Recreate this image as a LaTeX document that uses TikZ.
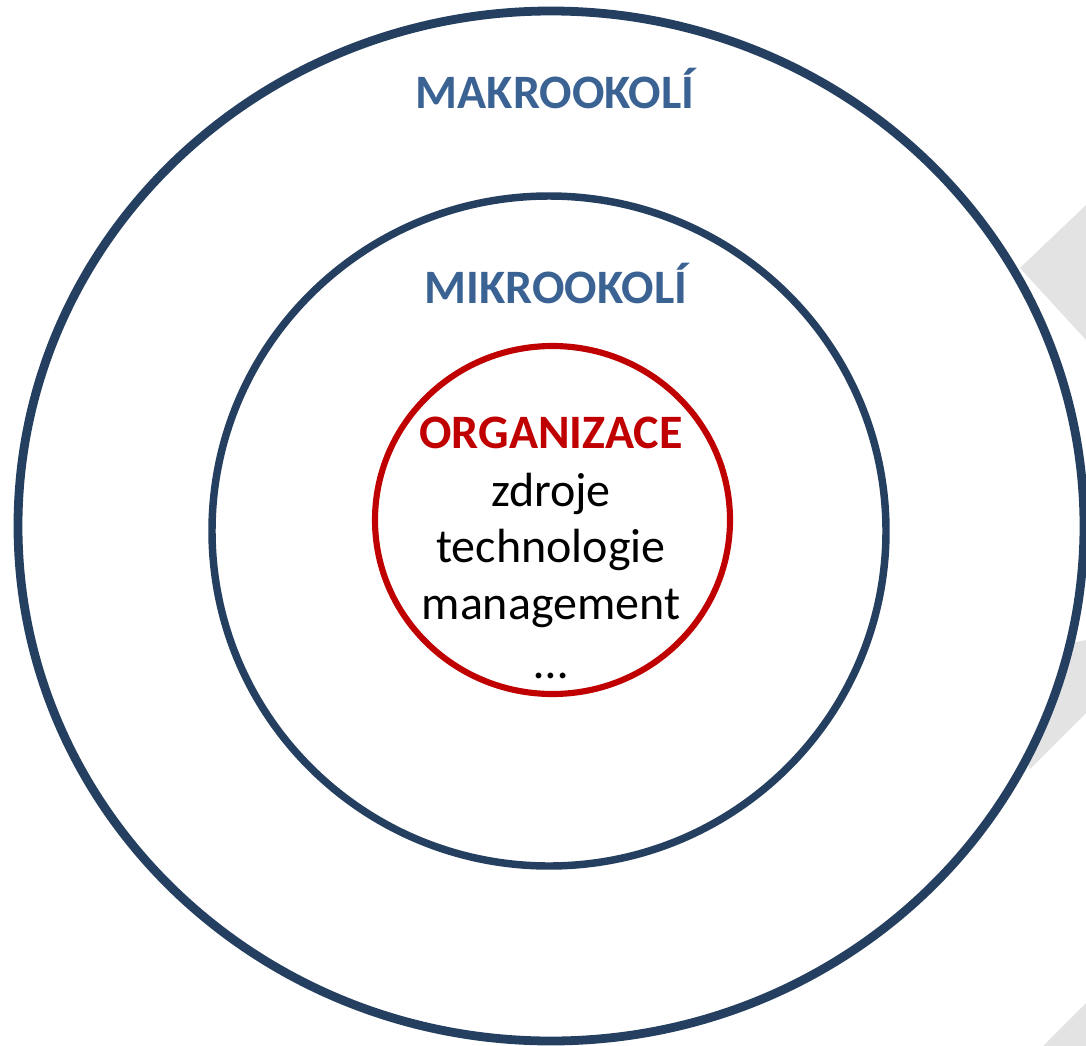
\documentclass[tikz,border=0pt]{standalone}
\usepackage{fontspec}
\setmainfont{Carlito}
\definecolor{ringblue}{HTML}{243F60}
\definecolor{labelblue}{HTML}{3A6394}
\definecolor{orgred}{HTML}{C00000}
\definecolor{decogray}{HTML}{E2E3E2}
\begin{document}
\begin{tikzpicture}[x=0.75pt,y=-0.75pt,
  ring/.style={draw=ringblue, fill=white},
  deco/.style={fill=decogray},
  levellabel/.style={anchor=base, inner sep=0pt, text=labelblue,
    font=\fontsize{36}{43}\selectfont\bfseries},
  orglabel/.style={anchor=base, inner sep=0pt, text=orgred,
    font=\fontsize{36}{43}\selectfont\bfseries},
  itemlabel/.style={anchor=base, inner sep=0pt, text=black,
    font=\fontsize{36}{43}\selectfont}]
\useasboundingbox (0,0) rectangle (1086,1046);
\fill[white] (0,0) rectangle (1086,1046);

% background chevron pieces along the right edge
\fill[deco] (1086,205) -- (1020,268) -- (1086,340) -- cycle;
\fill[deco] (1086,713) -- (1030,769) -- (985,660) -- (1086,640) -- cycle;
\fill[deco] (1086,1003) -- (1043,1046) -- (1086,1046) -- cycle;

% environment rings
\draw[ring, line width=6.6pt] (551,526) ellipse [x radius=533, y radius=515];
\draw[ring, line width=5.6pt] (549,531) ellipse [x radius=337, y radius=335];
\draw[draw=orgred, fill=white, line width=4.6pt] (552.5,520) ellipse [x radius=177.5, y radius=174];

% labels
\node[levellabel] (makro) at (555,108) {MAKROOKOLÍ};
\node[levellabel] (mikro) at (556,303) {MIKROOKOLÍ};
\node[orglabel] (org) at (551,448) {ORGANIZACE};
\node[itemlabel] (zdroje) at (551,506) {zdroje};
\node[itemlabel] (tech) at (551,562) {technologie};
\node[itemlabel] (mgmt) at (551,619) {management};
\node[itemlabel] (dots) at (551,678) {…};
\end{tikzpicture}
\end{document}
